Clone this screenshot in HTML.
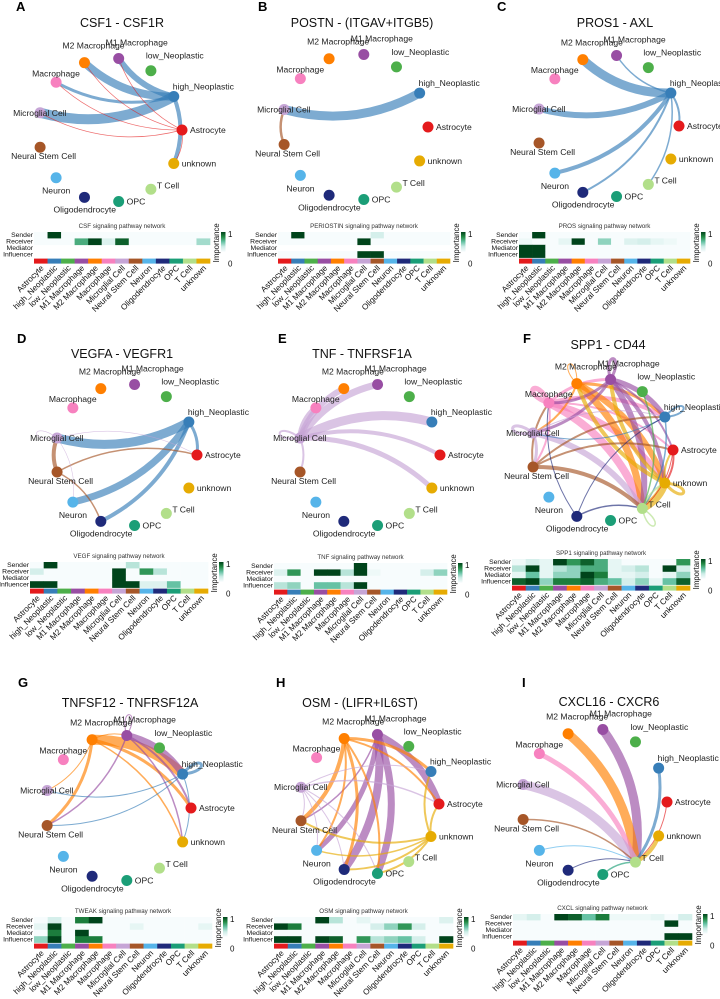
<!DOCTYPE html>
<html><head><meta charset="utf-8">
<style>
html,body{margin:0;padding:0;background:#fff;}
svg{display:block;font-family:"Liberation Sans",Arial,sans-serif;}
</style></head>
<body>
<svg id="fig" width="720" height="999" viewBox="0 0 720 999" xmlns="http://www.w3.org/2000/svg">
<defs>
<linearGradient id="imp" x1="0" y1="1" x2="0" y2="0">
<stop offset="0" stop-color="#f7fcfd"/><stop offset="0.25" stop-color="#ccece6"/><stop offset="0.5" stop-color="#66c2a4"/><stop offset="0.75" stop-color="#238b45"/><stop offset="1" stop-color="#00441b"/>
</linearGradient>
</defs>
</svg>
<script>
const cellTypes = ["Astrocyte","high_Neoplastic","low_Neoplastic","M1 Macrophage","M2 Macrophage","Macrophage","Microglial Cell","Neural Stem Cell","Neuron","Oligodendrocyte","OPC","T Cell","unknown"];
const cellColors = ["#E41A1C","#377EB8","#4DAF4A","#984EA3","#FF7F00","#F781BF","#C6A5D6","#A65628","#56B4E9","#1F2A7A","#1B9E77","#B2DF8A","#E6AB02"];
const roleNames = ["Sender","Receiver","Mediator","Influencer"];

// edges: [source, target, weight]
const edgesA = [[1,4,8],[1,3,6],[1,5,3],[1,6,10],[1,12,4],[0,3,0.7],[0,4,0.7],[0,5,0.7],[0,6,0.7],[0,12,0.7]];
const edgesB = [[1,6,9],[7,6,2.5]];
const edgesC = [[1,4,9],[1,3,1.5],[1,6,6],[1,8,4],[1,9,2],[1,11,1.5],[1,0,2]];
const edgesD = [[1,6,9],[1,8,7],[1,9,4],[1,0,3],[7,6,4],[7,0,1.5],[7,9,1.5],[6,0,0.6],[6,6,0.6],[6,8,0.6]];
const edgesE = [[6,5,6],[6,4,6],[6,3,7],[6,1,9],[6,0,4],[6,12,5],[6,7,2],[6,6,2]];
const edgesF = [[5,5,5],[5,11,8],[5,12,6],[5,1,4],[5,0,2],[5,3,3],[5,7,2],[4,11,7],[4,12,6],[4,1,3],[4,6,2],[4,4,1],[3,11,6],[3,12,4],[3,1,5],[3,6,3],[3,5,3],[3,3,3],[3,0,2],[6,6,3],[6,11,6],[6,1,1],[6,7,3],[12,12,3],[12,4,4],[12,3,4],[12,11,8],[12,0,2],[7,11,4],[7,1,2],[7,0,2],[7,5,2],[1,1,2],[1,11,1.5],[1,6,1],[9,1,1],[9,11,1.5],[9,5,1],[11,11,1.5],[11,12,2],[2,11,1.5],[0,11,1],[0,12,2]];
const edgesG = [[4,1,10],[4,7,3],[4,6,1],[4,0,3],[4,12,1.5],[4,3,1],[3,1,7],[3,0,2],[3,7,1.5],[3,12,1.5],[3,3,1],[1,1,3],[1,6,1],[1,7,1],[1,12,1]];
const edgesH = [[3,0,7],[3,10,7],[3,9,8],[3,8,5],[3,7,1.5],[4,7,4],[4,9,3],[4,8,2],[4,10,2],[4,1,3],[4,0,2],[6,0,1.5],[6,1,1],[6,7,1],[6,8,1],[6,9,1],[6,10,1],[12,1,2],[12,0,2],[12,7,2],[12,8,1.5],[12,9,2],[12,10,2]];
const edgesI = [[3,11,9],[4,11,9],[5,11,5],[6,11,9],[7,11,1.5],[8,11,1],[9,11,1],[10,11,1.5],[1,11,3],[0,11,1],[12,11,4]];

// heatmap importance rows (Sender, Receiver, Mediator, Influencer); null = blank
const heatA = [[0,1,0,0,0,0,0,0,0,0,0,0,0],[0,0,0,0.6,1,0.15,0.9,0,0,0,0,0,0.35],null,null];
const heatB = [[0,1,0,0,0,0,0,0.2,0,0,0,0,0],[0,0,0,0,0,0,1,0,0,0,0,0,0],null,[0,0,0,0,0,0,1,1,0,0,0,0,0]];
const heatC = [[0,1,0,0,0,0,0,0,0,0,0,0,0],[0.05,0,0,0.1,1,0,0.4,0,0.15,0.2,0.1,0.05,0],[1,1,0,0,0,0,0,0,0,0,0,0,0],[1,1,0,0,0,0,0,0,0,0,0,0,0]];
const heatD = [[0,1,0,0,0,0,0,0.3,0,0,0,0,0],[0.2,0,0,0,0,0,1,0,0.7,0.3,0,0,0],[0,0,0,0,0,0,1,0,0,0,0,0,0],[1,1,0,0,0,0,1,1,0.15,0.15,0.5,0,0]];
const heatE = [[0,0,0,0,0,0,1,0,0,0,0,0,0],[0.15,0.7,0,1,1,0.3,1,0.05,0,0,0,0.2,0.4],[0,0,0,0,0,0,0,0,0,0,0,0,0],[0.3,0.4,0,0.5,0.5,0.3,1,0,0,0,0,0,0]];
const heatF = [[0.05,0.2,0.1,1,0.7,0.9,0.6,0.1,0,0,0,0,0.7],[0.3,1,0.1,0.3,0.4,0.6,0.6,0.1,0.2,0.3,0,1,0.2],[0.1,0.5,0.1,0.4,0.4,1,0.8,0.1,0.1,0.2,0,0.1,0.4],[0.9,1,0.4,0.8,0.8,0.9,0.6,0.5,0.2,0.4,0.1,0.5,0.9]];
const heatG = [[0,0.2,0,0.8,1,0,0,0,0,0,0,0,0],[0.1,1,0,0,0,0,0,0.1,0,0,0,0,0.1],[0,0.8,0,1,0,0,0,0,0,0,0,0,0],[0.4,1,0,0.8,0.8,0,0,0,0,0,0,0,0]];
const heatH = [[0,0,0,1,0.3,0,0.1,0,0,0,0,0,0.15],[1,0.8,0,0,0,0,0,0.2,0.4,0.7,0.2,0,0],[0,0,0,0,0,0,0,0,0,0,0,0,0],[1,1,0,1,0.9,0,0.7,0.3,0.4,0.5,0.2,0,1]];
const heatI = [[0.1,0.2,0,1,0.9,0.5,0.8,0.05,0.05,0.05,0.1,0,0.2],[0,0,0,0,0,0,0,0,0,0,0,1,0],[0,0,0,0,0,0,0,0,0,0,0,0,0],[0,0,0,0,0,0,0,0,0,0,0,1,1]];

const panelTitles = ["CSF1 - CSF1R","POSTN - (ITGAV+ITGB5)","PROS1 - AXL","VEGFA - VEGFR1","TNF - TNFRSF1A","SPP1 - CD44","TNFSF12 - TNFRSF12A","OSM - (LIFR+IL6ST)","CXCL16 - CXCR6"];
const pathwayNames = ["CSF","PERIOSTIN","PROS","VEGF","TNF","SPP1","TWEAK","OSM","CXCL"];
const panelLetters = ["A","B","C","D","E","F","G","H","I"];

// layout (positions only)
const layout = [
 {lx:16,ly:11,tx:122,ty:27,cx:110,cy:130,r:72,hx:34,hy:232,hw:176},
 {lx:258,ly:11,tx:362,ty:27,cx:355,cy:127,r:73,hx:278,hy:232,hw:172},
 {lx:497,ly:11,tx:615,ty:27,cx:608,cy:126,r:71,hx:519,hy:232,hw:171},
 {lx:17,ly:343,tx:122,ty:358,cx:126,cy:455,r:71,hx:30,hy:562,hw:178},
 {lx:278,ly:343,tx:362,ty:358,cx:369,cy:455,r:71,hx:274,hy:563,hw:173},
 {lx:523,ly:343,tx:608,ty:349,cx:602,cy:450,r:71,hx:512,hy:559,hw:178},
 {lx:18,ly:687,tx:130,ty:707,cx:118,cy:808,r:73,hx:34,hy:917,hw:178},
 {lx:276,ly:687,tx:360,ty:707,cx:369,cy:804,r:70,hx:274,hy:917,hw:179},
 {lx:522,ly:687,tx:609,ty:706,cx:594,cy:802,r:73,hx:513,hy:914,hw:179}
];
const edgeSets = [edgesA,edgesB,edgesC,edgesD,edgesE,edgesF,edgesG,edgesH,edgesI];
const heatSets = [heatA,heatB,heatC,heatD,heatE,heatF,heatG,heatH,heatI];
// label offsets [dx, dy, anchor]
const labelOff = [[8,3,"start"],[-1,-7,"start"],[-5,-12,"start"],[-13,-13,"start"],[-22,-14,"start"],[-24,-6,"start"],[-27,3,"start"],[-29,12,"start"],[-14,16,"start"],[-31,15,"start"],[8,3,"start"],[6,-1,"start"],[8,3,"start"]];

const NS = "http://www.w3.org/2000/svg";
const svg = document.getElementById("fig");
function mk(tag, attrs, parent){const e=document.createElementNS(NS,tag);for(const k in attrs)e.setAttribute(k,attrs[k]);(parent||svg).appendChild(e);return e;}

const stops=[[0,[247,252,253]],[0.25,[204,236,230]],[0.5,[102,194,164]],[0.75,[35,139,69]],[1,[0,68,27]]];
function colorScale(v){
  v=Math.max(0,Math.min(1,v));
  for(let i=1;i<stops.length;i++){if(v<=stops[i][0]){const a=stops[i-1],b=stops[i];const t=(v-a[0])/(b[0]-a[0]);const c=a[1].map((x,j)=>Math.round(x+(b[1][j]-x)*t));return "rgb("+c.join(",")+")";}}
  return "rgb(0,68,27)";
}
function nodePos(L,k){const a=k*2*Math.PI/13;return [L.cx+L.r*Math.cos(a), L.cy-L.r*Math.sin(a)];}

layout.forEach((L,p)=>{
  const g=mk("g",{});
  
  
  const letter=mk("text",{x:L.lx,y:L.ly,"font-size":13,"font-weight":"bold",fill:"#000"},g);
  letter.textContent=panelLetters[p];
  
  
  const title=mk("text",{x:L.tx,y:L.ty,"font-size":12.5,"text-anchor":"middle",fill:"#111"},g);
  title.textContent=panelTitles[p];
  
  

  const eg=mk("g",{},g);
  
  
  edgeSets[p].forEach(e=>{
    const s=e[0],t=e[1],w=e[2];
    const [x1,y1]=nodePos(L,s),[x2,y2]=nodePos(L,t);
    let d;
    if(s===t){
      const a=s*2*Math.PI/13;
      const ox=Math.cos(a),oy=-Math.sin(a),px=-oy,py=ox,R=28;
      d=`M${x1},${y1} C${x1+R*ox+12*px},${y1+R*oy+12*py} ${x1+R*ox-12*px},${y1+R*oy-12*py} ${x1},${y1}`;
    } else {
      const dx=x2-x1,dy=y2-y1;
      const mx=(x1+x2)/2+0.2*dy,my=(y1+y2)/2-0.2*dx;
      d=`M${x1},${y1} Q${mx},${my} ${x2},${y2}`;
    }
    const path=mk("path",{d:d,fill:"none",stroke:cellColors[s],"stroke-width":w,"stroke-opacity":0.65},eg);
    
    
  });
  cellTypes.forEach((n,k)=>{
    const [x,y]=nodePos(L,k);
    const c=mk("circle",{cx:x,cy:y,r:5.5,fill:cellColors[k]},g);
    
    
  });
  cellTypes.forEach((n,k)=>{
    const [x,y]=nodePos(L,k);const o=labelOff[k];
    const t=mk("text",{x:x+o[0],y:y+o[1],"font-size":8.6,"text-anchor":o[2],fill:"#222"},g);
    t.textContent=n;
    
    
  });

  const hg=mk("g",{},g);
  
  
  const cw=L.hw/13,rh=6.4,hh=rh*4;
  const ht=mk("text",{x:L.hx+L.hw/2,y:L.hy-4,"font-size":6.2,"text-anchor":"middle",fill:"#333"},hg);
  ht.textContent=pathwayNames[p]+" signaling pathway network";
  
  
  const H=heatSets[p];
  roleNames.forEach((rn,r)=>{
    const lab=mk("text",{x:L.hx-1,y:L.hy+r*rh+5.2,"font-size":6.8,"text-anchor":"end",fill:"#111"},hg);
    lab.textContent=rn;
    
    
    if(!H[r]) return;
    H[r].forEach((v,c)=>{
      const cell=mk("rect",{x:L.hx+c*cw,y:L.hy+r*rh,width:cw+0.3,height:rh+0.3,fill:colorScale(v)},hg);
      
      
    });
  });
  const sy=L.hy+hh+1;
  cellTypes.forEach((n,c)=>{
    const s=mk("rect",{x:L.hx+c*cw,y:sy,width:cw+0.3,height:5,fill:cellColors[c]},hg);
    
    
    const cx=L.hx+c*cw+cw/2+3.5,cy=sy+10;
    const t=mk("text",{x:cx,y:cy,"font-size":8.2,"text-anchor":"end",fill:"#111",transform:`rotate(-45 ${cx} ${cy})`},hg);
    t.textContent=n;
    
    
  });
  const bx=L.hx+L.hw+11;
  const bar=mk("rect",{x:bx,y:L.hy,width:4.5,height:hh-6,fill:"url(#imp)"},hg);
  
  
  const one=mk("text",{x:bx+7,y:L.hy+5,"font-size":8,fill:"#111"},hg);one.textContent="1";
  
  
  const zero=mk("text",{x:bx+7,y:L.hy+hh+9,"font-size":8,fill:"#111"},hg);zero.textContent="0";
  
  
  const ix=bx-2,iy=L.hy+hh/2-2;
  const imp=mk("text",{x:ix,y:iy,"font-size":7.8,"text-anchor":"middle",fill:"#111",transform:`rotate(-90 ${ix} ${iy})`},hg);
  imp.textContent="Importance";
  
  
});
</script>
</body></html>
